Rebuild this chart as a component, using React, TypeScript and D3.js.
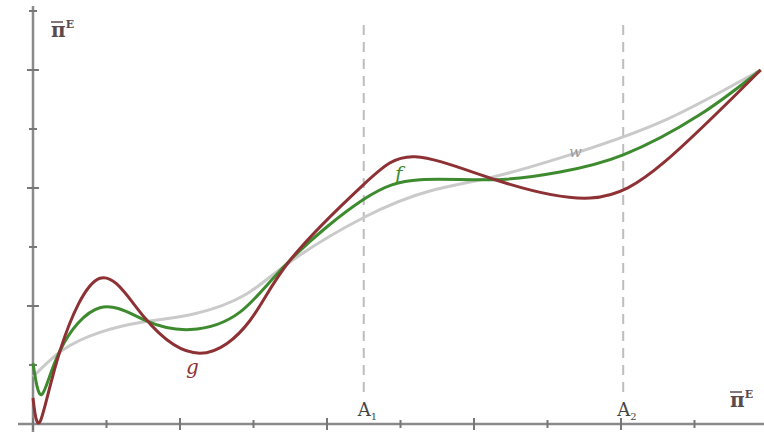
import { useEffect, useRef } from 'react';
import * as d3 from 'd3';

// curve points in axis units (x: one tick = 1, y: one tick = 1)
const curveW: [number, number][] = [
  [0, 0.8], [0.4, 1.25], [0.9, 1.55], [1.5, 1.73], [2.2, 1.87], [2.9, 2.2], [3.5, 2.75],
  [4.5, 3.5], [5.4, 3.95], [6.3, 4.2], [7.4, 4.6], [8.6, 5.15], [9.9, 6.0]
];
const curveF: [number, number][] = [
  [0, 1.03], [0.12, 0.5], [0.37, 1.25], [0.91, 1.97], [1.52, 1.76], [2.14, 1.6], [2.82, 1.9],
  [3.5, 2.78], [4.49, 3.8], [5.27, 4.14], [6.29, 4.14], [7.17, 4.27], [8.03, 4.56], [9.07, 5.24], [9.9, 6.0]
];
const curveG: [number, number][] = [
  [0, 0.44], [0.1, 0.05], [0.37, 1.25], [0.91, 2.47], [1.52, 1.8], [2.27, 1.2], [2.95, 1.75],
  [3.5, 2.78], [4.49, 4.05], [5.2, 4.53], [6.29, 4.14], [7.58, 3.83], [8.6, 4.45], [9.9, 6.0]
];
const xTicks = [0, 1, 2, 3, 4, 5, 6, 7, 8, 9];
const yTicks = [1, 2, 3, 4, 5, 6, 7];
const guides = [{ x: 4.5, sub: '1' }, { x: 8.03, sub: '2' }];

const W = 764;
const H = 434;

const App = () => {
  const svgRef = useRef<SVGSVGElement>(null);

  useEffect(() => {
    const svg = d3.select(svgRef.current);
    svg.selectAll('*').remove();

    const x = d3.scaleLinear().domain([0, 10]).range([33, 768]);
    const y = d3.scaleLinear().domain([0, 7]).range([424, 11]);
    const axisColor = '#8a8a8a';

    // dashed guides
    guides.forEach(gd => {
      svg.append('line')
        .attr('x1', x(gd.x)).attr('x2', x(gd.x))
        .attr('y1', 25).attr('y2', 398)
        .attr('stroke', '#bdbdbd')
        .attr('stroke-width', 2)
        .attr('stroke-dasharray', '10,7');
    });

    // axes
    svg.append('line')
      .attr('x1', 18).attr('x2', W).attr('y1', y(0)).attr('y2', y(0))
      .attr('stroke', axisColor).attr('stroke-width', 2.5);
    svg.append('line')
      .attr('x1', x(0)).attr('x2', x(0)).attr('y1', 6).attr('y2', 432)
      .attr('stroke', axisColor).attr('stroke-width', 2.5);

    xTicks.forEach(t => {
      const len = t % 2 === 0 ? 6 : 4;
      svg.append('line')
        .attr('x1', x(t)).attr('x2', x(t))
        .attr('y1', y(0) - len).attr('y2', y(0) + len)
        .attr('stroke', '#777').attr('stroke-width', 2);
    });
    yTicks.forEach(t => {
      const len = t % 2 === 0 ? 6 : 4;
      svg.append('line')
        .attr('x1', x(0) - len).attr('x2', x(0) + len)
        .attr('y1', y(t)).attr('y2', y(t))
        .attr('stroke', '#777').attr('stroke-width', 2);
    });

    const line = d3.line<[number, number]>()
      .x(d => x(d[0]))
      .y(d => y(d[1]))
      .curve(d3.curveNatural);

    const series = [
      { data: curveW, color: '#cacaca' },
      { data: curveF, color: '#3d8b2e' },
      { data: curveG, color: '#8e3134' }
    ];
    series.forEach(s => {
      svg.append('path')
        .datum(s.data)
        .attr('d', line)
        .attr('fill', 'none')
        .attr('stroke', s.color)
        .attr('stroke-width', 3)
        .attr('stroke-linejoin', 'round');
    });

    // curve labels
    const lbl = (tx: number, ty: number, txt: string, color: string, size: number) =>
      svg.append('text')
        .attr('x', tx).attr('y', ty)
        .attr('fill', color)
        .attr('font-family', '"DejaVu Serif", serif')
        .attr('font-style', 'italic')
        .attr('font-size', size)
        .text(txt);
    lbl(186, 374, 'g', '#8e3134', 20);
    lbl(395, 181, 'f', '#3d8b2e', 20);
    lbl(569, 157, 'w', '#9a9a9a', 15);

    // axis titles
    const pi = (px: number, py: number) => {
      const t = svg.append('text')
        .attr('x', px).attr('y', py)
        .attr('fill', '#5a4a4c')
        .attr('font-family', '"DejaVu Serif", serif')
        .attr('font-size', 20)
        .attr('font-weight', 'bold');
      t.append('tspan').text('π');
      t.append('tspan').attr('font-size', 11).attr('dy', -9).text('E');
      svg.append('line')
        .attr('x1', px).attr('x2', px + 12)
        .attr('y1', py - 15).attr('y2', py - 15)
        .attr('stroke', '#5a4a4c').attr('stroke-width', 1.5);
    };
    pi(51, 37);
    pi(730, 407);

    guides.forEach(gd => {
      const t = svg.append('text')
        .attr('x', x(gd.x) - 6).attr('y', 416)
        .attr('fill', '#444')
        .attr('font-family', '"DejaVu Serif", serif')
        .attr('font-size', 18);
      t.append('tspan').text('A');
      t.append('tspan').attr('font-size', 10).attr('dy', 4).text(gd.sub);
    });
  }, []);

  return (
    <svg
      ref={svgRef}
      width={W}
      height={H}
      style={{ position: 'fixed', top: 0, left: 0, background: '#fff' }}
    />
  );
};

export default App;
